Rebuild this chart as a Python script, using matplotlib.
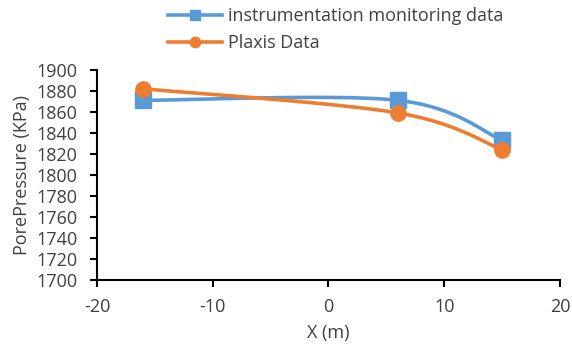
import numpy as np
import matplotlib.pyplot as plt

plt.rcParams['font.family'] = ['Open Sans', 'DejaVu Sans']
plt.rcParams['axes.unicode_minus'] = False

x_m = [-16, 6, 15]
monitoring = [1871, 1871, 1833]
plaxis = [1882, 1859, 1824]

BLUE = '#5B9BD5'
ORANGE = '#ED7D31'
TEXT = '#404040'


def smooth_curve(xs, ys, n=60):
    """Cubic Bezier smoothing through every point (Catmull-Rom style)."""
    p = np.column_stack([xs, ys]).astype(float)
    p_ext = np.vstack([p[0], p, p[-1]])
    out = []
    t = np.linspace(0, 1, n)[:, None]
    for i in range(len(p) - 1):
        p0, p3 = p_ext[i + 1], p_ext[i + 2]
        c1 = p0 + (p_ext[i + 2] - p_ext[i]) / 6.0
        c2 = p3 - (p_ext[i + 3] - p_ext[i + 1]) / 6.0
        seg = ((1 - t) ** 3) * p0 + 3 * ((1 - t) ** 2) * t * c1 \
            + 3 * (1 - t) * t ** 2 * c2 + t ** 3 * p3
        out.append(seg if i == 0 else seg[1:])
    seg = np.vstack(out)
    return seg[:, 0], seg[:, 1]


fig = plt.figure(figsize=(5.72, 3.46), dpi=100)
ax = fig.add_axes([0.1696, 0.191, 0.8094, 0.607])

for ys, color, marker, label in [(monitoring, BLUE, 's', 'instrumentation monitoring data'),
                                 (plaxis, ORANGE, 'o', 'Plaxis Data')]:
    sx, sy = smooth_curve(x_m, ys)
    ax.plot(sx, sy, color=color, lw=2.6, solid_capstyle='round')
    ax.plot(x_m, ys, linestyle='none', marker=marker, color=color, ms=11)
    ax.plot([], [], color=color, lw=2.6, marker=marker, ms=7.5, label=label)

ax.set_xlim(-20, 20)
ax.set_ylim(1700, 1900)
ax.set_xticks(np.arange(-20, 21, 10))
ax.set_yticks(np.arange(1700, 1901, 20))

for side in ['top', 'right']:
    ax.spines[side].set_visible(False)
for side in ['left', 'bottom']:
    ax.spines[side].set_linewidth(1.5)
ax.tick_params(direction='out', length=5, width=1.5, labelsize=13,
               labelcolor=TEXT)
ax.tick_params(axis='x', pad=8)
ax.tick_params(axis='y', pad=9)

ax.set_xlabel('X (m)', fontsize=13, color=TEXT, labelpad=6)
ax.set_ylabel('PorePressure (KPa)', fontsize=13, color=TEXT, labelpad=4)

fig.legend(loc='upper left', bbox_to_anchor=(0.294, 0.979), frameon=False,
           fontsize=13, labelcolor=TEXT, handlelength=3.0, handletextpad=0.3,
           labelspacing=0.5, borderpad=0, borderaxespad=0)

fig.savefig('out.png', dpi=100)
